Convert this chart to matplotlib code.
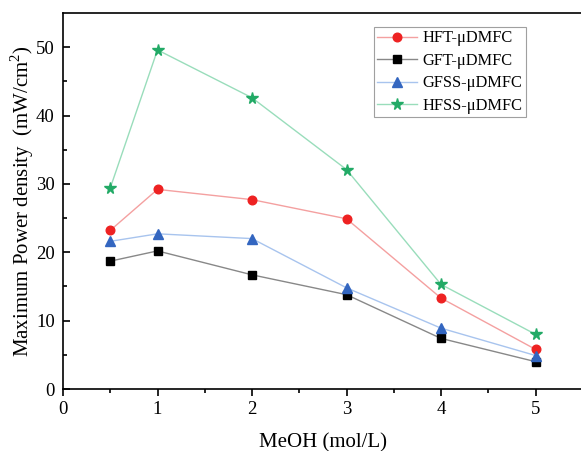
import matplotlib
matplotlib.use("Agg")
import matplotlib.pyplot as plt

plt.rcParams['font.family'] = ['Liberation Serif', 'DejaVu Serif']
plt.rcParams['mathtext.fontset'] = 'custom'
plt.rcParams['mathtext.rm'] = 'Liberation Serif'

# MeOH concentration (mol/L)
meoh = [0.5, 1, 2, 3, 4, 5]

# Maximum power density (mW/cm2)
hft = [23.2, 29.2, 27.7, 24.9, 13.3, 5.8]
gft = [18.7, 20.2, 16.7, 13.8, 7.4, 4.0]
gfss = [21.6, 22.7, 22.0, 14.8, 8.9, 4.9]
hfss = [29.4, 49.6, 42.6, 32.1, 15.3, 8.0]

labels = ['HFT-μDMFC', 'GFT-μDMFC', 'GFSS-μDMFC', 'HFSS-μDMFC']

fig = plt.figure(figsize=(5.81, 4.51), dpi=100)
ax = fig.add_axes([63 / 581, 62 / 451, 519.75 / 581, 376 / 451])

ax.plot(meoh, hft, color='#f4a0a0', lw=1, marker='o', ms=6.2,
        mfc='#ee2222', mec='#ee2222', label=labels[0])
ax.plot(meoh, gft, color='#888888', lw=1, marker='s', ms=5.6,
        mfc='black', mec='black', label=labels[1])
ax.plot(meoh, gfss, color='#a8c4ee', lw=1, marker='^', ms=6.8,
        mfc='#3366c0', mec='#3366c0', label=labels[2])
ax.plot(meoh, hfss, color='#99ddbb', lw=1, marker='*', ms=8.5,
        mfc='#22aa66', mec='#22aa66', label=labels[3])

ax.set_xlim(0, 5.5)
ax.set_ylim(0, 55)
ax.set_xticks([0, 1, 2, 3, 4, 5])
ax.set_xticks([0.5, 1.5, 2.5, 3.5, 4.5], minor=True)
ax.set_yticks([0, 10, 20, 30, 40, 50])
ax.set_yticks([5, 15, 25, 35, 45], minor=True)
ax.tick_params(which='both', labelsize=13.5, width=1.2)
ax.tick_params(axis='x', which='both', direction='out')
ax.tick_params(axis='y', which='both', direction='in', pad=6)
ax.tick_params(which='major', length=5)
ax.tick_params(which='minor', length=3)
ax.tick_params(top=False, right=False)
for s in ax.spines.values():
    s.set_linewidth(1.2)

ax.set_xlabel('MeOH (mol/L)', fontsize=15, labelpad=11)
ax.set_ylabel('Maximum Power density  (mW/cm$^2$)', fontsize=15, labelpad=0)

leg = ax.legend(loc='upper left', bbox_to_anchor=(311 / 519.75, 1 - 14 / 376),
                fontsize=11.8, frameon=True, fancybox=False, edgecolor='#888888',
                borderpad=0.2, labelspacing=0.4, handlelength=2.45,
                handletextpad=0.3, borderaxespad=0)
leg.get_frame().set_linewidth(0.8)

fig.savefig('out.png', dpi=100)
